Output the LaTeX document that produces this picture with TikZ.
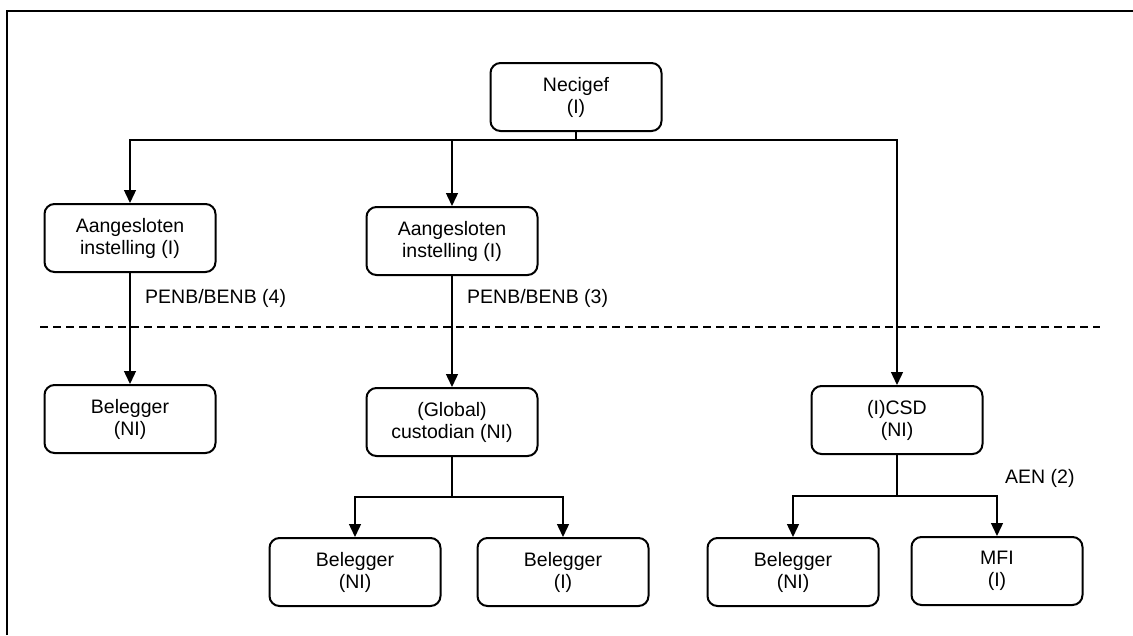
\documentclass[tikz,border=0pt]{standalone}
\usepackage{fontspec}
\setmainfont{Liberation Sans}
\usetikzlibrary{arrows.meta}
\begin{document}
\begin{tikzpicture}[x=1pt,y=-1pt,
  box/.style={draw,line width=2pt,rounded corners=10pt,minimum width=171pt,minimum height=68pt,
    align=center,inner sep=0pt,font=\fontsize{19.5}{22}\selectfont},
  conn/.style={line width=1.4pt},
  arr/.style={conn,-{Triangle[length=13pt,width=12pt]}},
  lbl/.style={anchor=west,inner sep=0pt,font=\fontsize{19.5}{22}\selectfont}]
\useasboundingbox (0,0) rectangle (1133,635);
% frame
\draw[line width=2.8pt] (7,635) -- (7,11) -- (1133,11);
% nodes
\node[box] (nec) at (576,97) {Necigef\\(I)};
\node[box] (a1) at (130,238) {Aangesloten\\instelling (I)};
\node[box] (a2) at (452,241) {Aangesloten\\instelling (I)};
\node[box] (b1) at (130,419) {Belegger\\(NI)};
\node[box] (gc) at (452,422) {(Global)\\custodian (NI)};
\node[box] (csd) at (897,420) {(I)CSD\\(NI)};
\node[box] (b2) at (355,572) {Belegger\\(NI)};
\node[box] (b3) at (563,572) {Belegger\\(I)};
\node[box] (b4) at (793,572) {Belegger\\(NI)};
\node[box] (mfi) at (997,571) {MFI\\(I)};
% labels
\node[lbl] (l4) at (145,298) {PENB/BENB (4)};
\node[lbl] (l3) at (467,298) {PENB/BENB (3)};
\node[lbl] (l2) at (1005,478) {AEN (2)};
% dashed separator
\coordinate (dl) at (40,327);
\coordinate (dr) at (1100,327);
\draw[line width=1.4pt,dash pattern=on 8pt off 5pt] (dl) -- (dr);
% connectors
\coordinate (j1) at (576,140);
\coordinate (j2) at (452,497);
\coordinate (j3) at (897,496);
\draw[conn] (nec.south) -- (j1);
\draw[arr] (j1) -| (a1.north);
\draw[arr] (j1) -| (a2.north);
\draw[arr] (j1) -| (csd.north);
\draw[arr] (a1.south) -- (b1.north);
\draw[arr] (a2.south) -- (gc.north);
\draw[conn] (gc.south) -- (j2);
\draw[arr] (j2) -| (b2.north);
\draw[arr] (j2) -| (b3.north);
\draw[conn] (csd.south) -- (j3);
\draw[arr] (j3) -| (b4.north);
\draw[arr] (j3) -| (mfi.north);
\end{tikzpicture}
\end{document}
